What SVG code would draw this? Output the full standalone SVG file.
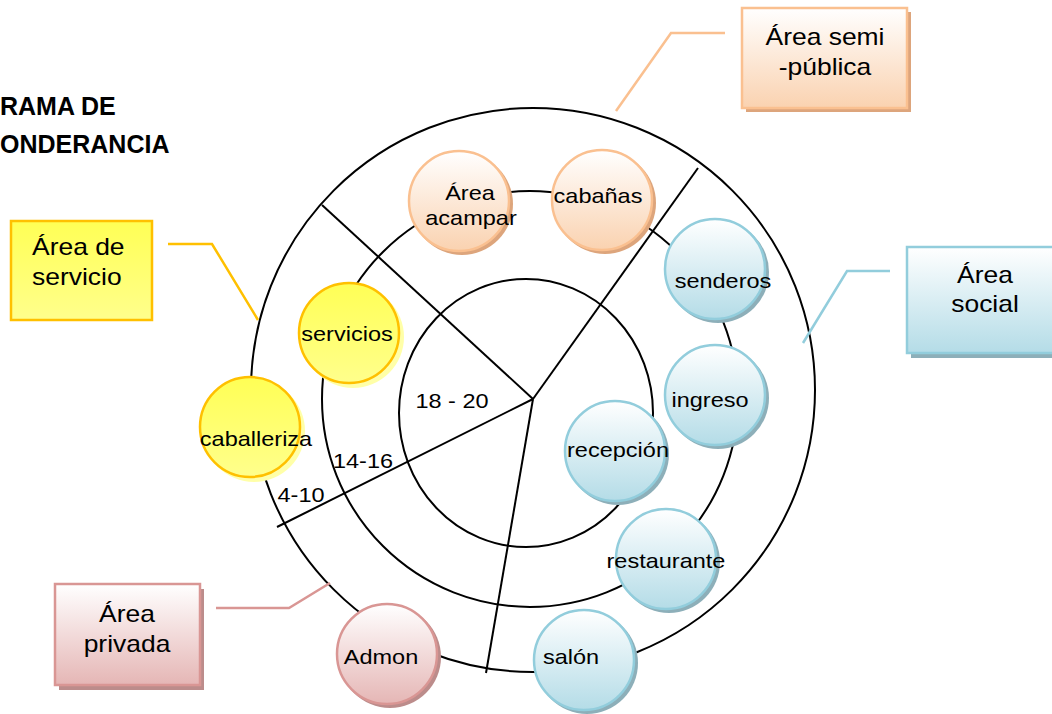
<svg xmlns="http://www.w3.org/2000/svg" width="1052" height="714" viewBox="0 0 1052 714">
<defs>
<linearGradient id="gO" x1="0" y1="0" x2="0" y2="1"><stop offset="0" stop-color="#FFFFFF"/><stop offset="1" stop-color="#FAD2B0"/></linearGradient>
<linearGradient id="gB" x1="0" y1="0" x2="0" y2="1"><stop offset="0" stop-color="#FFFFFF"/><stop offset="1" stop-color="#B4DCE7"/></linearGradient>
<linearGradient id="gP" x1="0" y1="0" x2="0" y2="1"><stop offset="0" stop-color="#FFFFFF"/><stop offset="1" stop-color="#E5B6B5"/></linearGradient>
<linearGradient id="gY" x1="0" y1="0" x2="0" y2="1"><stop offset="0" stop-color="#FFFF55"/><stop offset="1" stop-color="#FFFF8C"/></linearGradient>
<style>
.t{font-family:"Liberation Sans",Arial,sans-serif;font-size:21px;fill:#000;text-anchor:middle}
.tb{font-family:"Liberation Sans",Arial,sans-serif;font-size:23px;fill:#000;text-anchor:middle}
.ti{font-family:"Liberation Sans",Arial,sans-serif;font-size:25px;font-weight:bold;fill:#000}
.ring{fill:none;stroke:#000;stroke-width:2}
.ln{stroke:#000;stroke-width:2;fill:none}
.no{fill:url(#gO);stroke:#FAC090;stroke-width:2.5}
.nb{fill:url(#gB);stroke:#92CDDC;stroke-width:2.5}
.np{fill:url(#gP);stroke:#D99694;stroke-width:2.5}
.ny{fill:url(#gY);stroke:#FFC000;stroke-width:2.5}
.so{fill:#DDA57C}
.sb{fill:#8DAFB9}
.sp{fill:#BC8C8B}
.sy{fill:#FFFFA8}
</style>
</defs>
<rect width="1052" height="714" fill="#FFFFFF"/>

<g id="title">
<text class="ti" transform="translate(0,115) scale(1.0,1)">RAMA DE</text>
<text class="ti" transform="translate(0,153) scale(1.0,1)">ONDERANCIA</text>
</g>

<g id="rings">
<circle class="ring" cx="533" cy="390" r="282"/>
<circle class="ring" cx="530" cy="399" r="208"/>
<ellipse class="ring" cx="526" cy="413" rx="127" ry="134"/>
</g>

<g id="connectors">
<line class="ln" x1="533" y1="399" x2="322" y2="205"/>
<line class="ln" x1="533" y1="399" x2="698" y2="168"/>
<line class="ln" x1="533" y1="399" x2="277" y2="527"/>
<line class="ln" x1="533" y1="399" x2="486" y2="673"/>
<polyline points="725,33 671,33 616,111" fill="none" stroke="#FAC090" stroke-width="2.5"/>
<polyline points="168,244 212,244 258,320" fill="none" stroke="#FFC000" stroke-width="2.5"/>
<polyline points="890,271 847,271 803,343" fill="none" stroke="#92CDDC" stroke-width="2.5"/>
<polyline points="216,608 289,608 330,583" fill="none" stroke="#D99694" stroke-width="2.5"/>
</g>

<g id="zone-labels">
<text class="t" transform="translate(452,408) scale(1.12,1)">18 - 20</text>
<text class="t" transform="translate(363,468) scale(1.12,1)">14-16</text>
<text class="t" transform="translate(301,502) scale(1.12,1)">4-10</text>
</g>

<g id="node-acampar">
<circle class="so" cx="462" cy="204" r="51"/>
<circle class="no" cx="459" cy="201" r="50"/>
<text class="t" transform="translate(470,200) scale(1.12,1)">Área</text>
<text class="t" transform="translate(471,225) scale(1.12,1)">acampar</text>
</g>
<g id="node-cabanas">
<circle class="so" cx="605" cy="203" r="51"/>
<circle class="no" cx="602" cy="200" r="50"/>
<text class="t" transform="translate(598,203) scale(1.12,1)">cabañas</text>
</g>
<g id="node-senderos">
<circle class="sb" cx="718" cy="272" r="51"/>
<circle class="nb" cx="715" cy="269" r="50"/>
<text class="t" transform="translate(723,288) scale(1.12,1)">senderos</text>
</g>
<g id="node-ingreso">
<circle class="sb" cx="718" cy="398" r="51"/>
<circle class="nb" cx="715" cy="395" r="50"/>
<text class="t" transform="translate(710,407) scale(1.12,1)">ingreso</text>
</g>
<g id="node-recepcion">
<circle class="sb" cx="618" cy="454" r="51"/>
<circle class="nb" cx="615" cy="451" r="50"/>
<text class="t" transform="translate(618,457) scale(1.12,1)">recepción</text>
</g>
<g id="node-restaurante">
<circle class="sb" cx="669" cy="562" r="51"/>
<circle class="nb" cx="666" cy="559" r="50"/>
<text class="t" transform="translate(666,568) scale(1.12,1)">restaurante</text>
</g>
<g id="node-salon">
<circle class="sb" cx="587" cy="663" r="51"/>
<circle class="nb" cx="584" cy="660" r="50"/>
<text class="t" transform="translate(571,664) scale(1.12,1)">salón</text>
</g>
<g id="node-admon">
<circle class="sp" cx="390" cy="657" r="51"/>
<circle class="np" cx="387" cy="654" r="50"/>
<text class="t" transform="translate(381,664) scale(1.12,1)">Admon</text>
</g>
<g id="node-caballeriza">
<circle class="sy" cx="254" cy="431" r="51"/>
<circle class="ny" cx="250" cy="427" r="50"/>
<text class="t" transform="translate(256,446) scale(1.12,1)">caballeriza</text>
</g>
<g id="node-servicios">
<circle class="sy" cx="353" cy="337" r="51"/>
<circle class="ny" cx="349" cy="333" r="50"/>
<text class="t" transform="translate(347,341) scale(1.12,1)">servicios</text>
</g>

<g id="box-semipublica">
<rect x="746" y="12" width="165" height="100" class="so"/>
<rect x="742" y="8" width="165" height="100" fill="url(#gO)" stroke="#FAC090" stroke-width="2.5"/>
<text class="tb" transform="translate(825,45) scale(1.15,1)">Área semi</text>
<text class="tb" transform="translate(825,75) scale(1.15,1)">-pública</text>
</g>
<g id="box-servicio">
<rect x="11" y="221" width="141" height="99" fill="url(#gY)" stroke="#FFC000" stroke-width="2.5"/>
<text class="tb" style="text-anchor:start" transform="translate(32,255) scale(1.15,1)">Área de</text>
<text class="tb" style="text-anchor:start" transform="translate(32,285) scale(1.15,1)">servicio</text>
</g>
<g id="box-social">
<rect x="911" y="252" width="150" height="106" class="sb"/>
<rect x="907" y="247" width="150" height="106" fill="url(#gB)" stroke="#92CDDC" stroke-width="2.5"/>
<text class="tb" transform="translate(985,283) scale(1.15,1)">Área</text>
<text class="tb" transform="translate(985,312) scale(1.15,1)">social</text>
</g>
<g id="box-privada">
<rect x="59" y="589" width="145" height="101" class="sp"/>
<rect x="55" y="584" width="145" height="101" fill="url(#gP)" stroke="#D99694" stroke-width="2.5"/>
<text class="tb" transform="translate(127,622) scale(1.15,1)">Área</text>
<text class="tb" transform="translate(127,652) scale(1.15,1)">privada</text>
</g>
</svg>
